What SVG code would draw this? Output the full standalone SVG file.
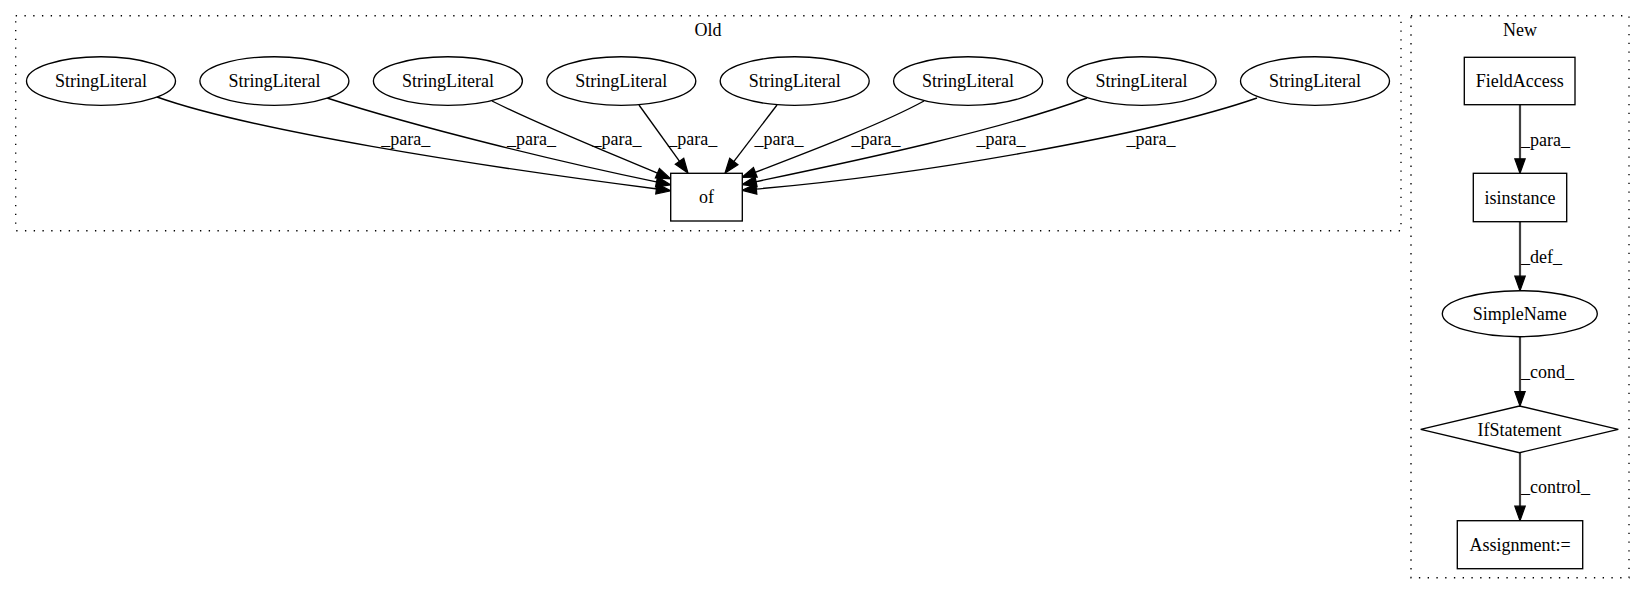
<svg xmlns="http://www.w3.org/2000/svg" width="1645" height="596" viewBox="0 0 1645 596">
<style>
text{font-family:"Liberation Serif","Times New Roman",serif;font-size:18px;fill:#000}
.c{text-anchor:middle}
.cl{fill:none;stroke:#000;stroke-width:1.35;stroke-dasharray:1.35 7.4}
.n{fill:#fff;stroke:#000;stroke-width:1.35}
.e{fill:none;stroke:#000;stroke-width:1.35}
.e2{fill:none;stroke:#404040;stroke-width:2.2}
</style>
<defs>
<marker id="ah" markerUnits="userSpaceOnUse" markerWidth="14.5" markerHeight="10.4" viewBox="0 0 14.5 10.4" refX="1" refY="5.2" orient="auto" overflow="visible">
<path d="M0,0 L14.5,5.2 L0,10.4 Z" fill="#000" stroke="#000" stroke-width="1.2"/>
</marker>
</defs>
<rect fill="#fff" x="0" y="0" width="1645" height="596"/>
<g id="cluster_old">
<rect class="cl" x="15.7" y="15.7" width="1385.3" height="215"/>
<text class="c" x="708" y="35.5">Old</text>
</g>
<g id="cluster_new">
<rect class="cl" x="1411" y="15.7" width="218" height="562"/>
<text class="c" x="1520" y="35.5">New</text>
</g>
<g id="connectors">
<path class="e" d="M157,97 C250,130 470,165 657.4,189" marker-end="url(#ah)"/>
<path class="e" d="M327,98 C420,128 560,162 657.5,182.1" marker-end="url(#ah)"/>
<path class="e" d="M492,101 C540,125 610,153 658.3,173.6" marker-end="url(#ah)"/>
<path class="e" d="M639,105 L680.1,162.1" marker-end="url(#ah)"/>
<path class="e" d="M777,105 L733.2,162.3" marker-end="url(#ah)"/>
<path class="e" d="M924,101 C880,125 800,155 754.4,172.6" marker-end="url(#ah)"/>
<path class="e" d="M1087,98 C1000,130 860,160 755.1,181.8" marker-end="url(#ah)"/>
<path class="e" d="M1257,98 C1150,135 920,175 755.4,189.1" marker-end="url(#ah)"/>
<text class="c" x="405.7" y="145">_para_</text>
<text class="c" x="531.5" y="145">_para_</text>
<text class="c" x="617" y="145">_para_</text>
<text class="c" x="692.7" y="145">_para_</text>
<text class="c" x="779" y="145">_para_</text>
<text class="c" x="876" y="145">_para_</text>
<text class="c" x="1001" y="145">_para_</text>
<text class="c" x="1151" y="145">_para_</text>
<path class="e2" d="M1520,104.7 L1520,159.8" marker-end="url(#ah)"/>
<path class="e2" d="M1520,221.7 L1520,277.2" marker-end="url(#ah)"/>
<path class="e2" d="M1520,336.7 L1520,392.5" marker-end="url(#ah)"/>
<path class="e2" d="M1520,452.7 L1520,507.2" marker-end="url(#ah)"/>
<text x="1521" y="145.5">_para_</text>
<text x="1521" y="262.5">_def_</text>
<text x="1521" y="377.5">_cond_</text>
<text x="1521" y="493">_control_</text>
</g>
<g id="sl1"><ellipse class="n" cx="101" cy="81" rx="74.5" ry="24.3"/><text class="c" x="101" y="87">StringLiteral</text></g>
<g id="sl2"><ellipse class="n" cx="274.4" cy="81" rx="74.5" ry="24.3"/><text class="c" x="274.4" y="87">StringLiteral</text></g>
<g id="sl3"><ellipse class="n" cx="447.9" cy="81" rx="74.5" ry="24.3"/><text class="c" x="447.9" y="87">StringLiteral</text></g>
<g id="sl4"><ellipse class="n" cx="621.3" cy="81" rx="74.5" ry="24.3"/><text class="c" x="621.3" y="87">StringLiteral</text></g>
<g id="sl5"><ellipse class="n" cx="794.7" cy="81" rx="74.5" ry="24.3"/><text class="c" x="794.7" y="87">StringLiteral</text></g>
<g id="sl6"><ellipse class="n" cx="968.1" cy="81" rx="74.5" ry="24.3"/><text class="c" x="968.1" y="87">StringLiteral</text></g>
<g id="sl7"><ellipse class="n" cx="1141.6" cy="81" rx="74.5" ry="24.3"/><text class="c" x="1141.6" y="87">StringLiteral</text></g>
<g id="sl8"><ellipse class="n" cx="1315" cy="81" rx="74.5" ry="24.3"/><text class="c" x="1315" y="87">StringLiteral</text></g>
<g id="of"><rect class="n" x="670.7" y="173.3" width="71.6" height="47.7"/><text class="c" x="706.5" y="203">of</text></g>
<g id="fieldaccess"><rect class="n" x="1464.3" y="57.3" width="110.7" height="47.4"/><text class="c" x="1519.7" y="87">FieldAccess</text></g>
<g id="isinstance"><rect class="n" x="1473.3" y="173.3" width="93.4" height="48.4"/><text class="c" x="1520" y="203.5">isinstance</text></g>
<g id="simplename"><ellipse class="n" cx="1519.8" cy="313.7" rx="77.5" ry="23"/><text class="c" x="1519.8" y="320">SimpleName</text></g>
<g id="ifstatement"><polygon class="n" points="1519.5,406 1618.3,429.3 1519.5,452.7 1420.7,429.3"/><text class="c" x="1519.5" y="435.5">IfStatement</text></g>
<g id="assignment"><rect class="n" x="1457.3" y="520.7" width="125.4" height="48"/><text class="c" x="1520" y="551">Assignment:=</text></g>
</svg>
